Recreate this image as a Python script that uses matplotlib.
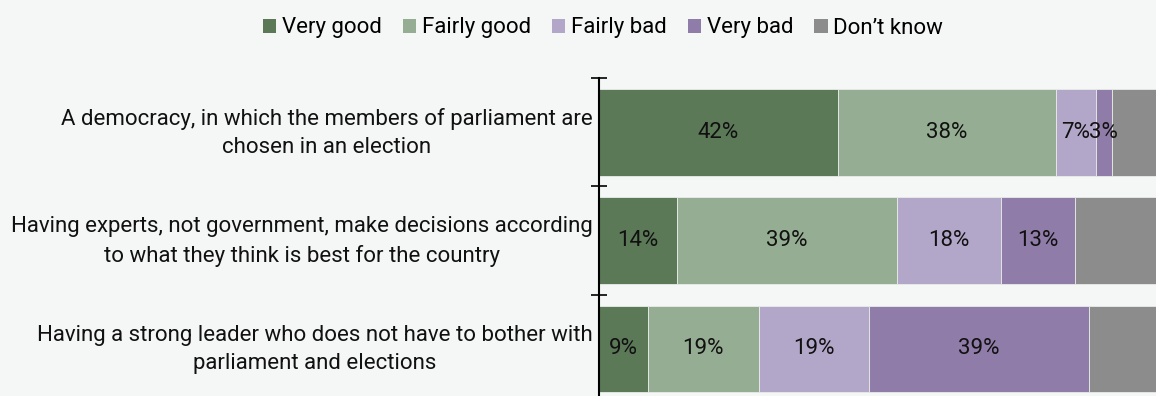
import numpy as np
import matplotlib.pyplot as plt
from matplotlib.patches import Patch

plt.rcParams['font.family'] = ['Roboto', 'DejaVu Sans']

categories = [
    "A democracy, in which the members of parliament are\nchosen in an election",
    "Having experts, not government, make decisions according\nto what they think is best for the country",
    "Having a strong leader who does not have to bother with\nparliament and elections",
]
series = ["Very good", "Fairly good", "Fairly bad", "Very bad", "Don\u2019t know"]
very_good = [41.9, 13.7, 8.6]
fairly_good = [38.2, 38.6, 19.4]
fairly_bad = [7.0, 18.2, 19.3]
very_bad = [2.8, 13.0, 38.6]
dont_know = [10.1, 16.5, 14.1]
show_label = [True, True, True, True, False]
colors = ['#5b7857', '#95ad92', '#b2a7c8', '#8f7ca8', '#8c8c8c']
bg = '#f5f7f6'

values = [very_good, fairly_good, fairly_bad, very_bad, dont_know]

fig = plt.figure(figsize=(11.56, 3.96), dpi=100, facecolor=bg)
ax = fig.add_axes([599 / 1156, -7 / 396, 1 - 599 / 1156, (403 - 78) / 396])
ax.set_facecolor(bg)

y = np.arange(len(categories))
left = np.zeros(len(categories))
for name, vals, col, lab in zip(series, values, colors, show_label):
    vals = np.array(vals)
    bars = ax.barh(y, vals, left=left, height=0.8, color=col,
                   edgecolor='#e8ece8', linewidth=0.6, label=name)
    if lab:
        ax.bar_label(bars, labels=[f"{v:.0f}%" for v in vals],
                     label_type='center', fontsize=16, color='#111111')
    left += vals

ax.set_xlim(0, 97.7)
ax.set_ylim(len(categories) - 0.5, -0.5)

# category labels, right-aligned next to the axis
ax.set_yticks(y)
ax.set_yticklabels([])
for yi, cat in zip(y, categories):
    ax.annotate(cat, xy=(0, yi), xycoords=('axes fraction', 'data'),
                xytext=(-4.5, -0.7), textcoords='offset points',
                ha='right', va='center', multialignment='center',
                fontsize=16, linespacing=1.45, color='#111111')
ax.tick_params(axis='y', length=0)
ax.set_yticks(np.arange(-0.5, len(categories), 1), minor=True)
ax.tick_params(axis='y', which='minor', direction='inout', length=12, width=1.2)
ax.set_xticks([])
for s in ['top', 'right', 'bottom']:
    ax.spines[s].set_visible(False)
ax.spines['left'].set_linewidth(1.5)

handles = [Patch(facecolor=c, edgecolor='none') for c in colors]
fig.legend(handles, series, loc='center', bbox_to_anchor=(603 / 1156, 1 - 28 / 396),
           ncol=5, frameon=False, fontsize=16, handlelength=0.6, handleheight=0.6,
           handletextpad=0.25, columnspacing=0.95)

fig.savefig('out.png', dpi=100, facecolor=bg)
